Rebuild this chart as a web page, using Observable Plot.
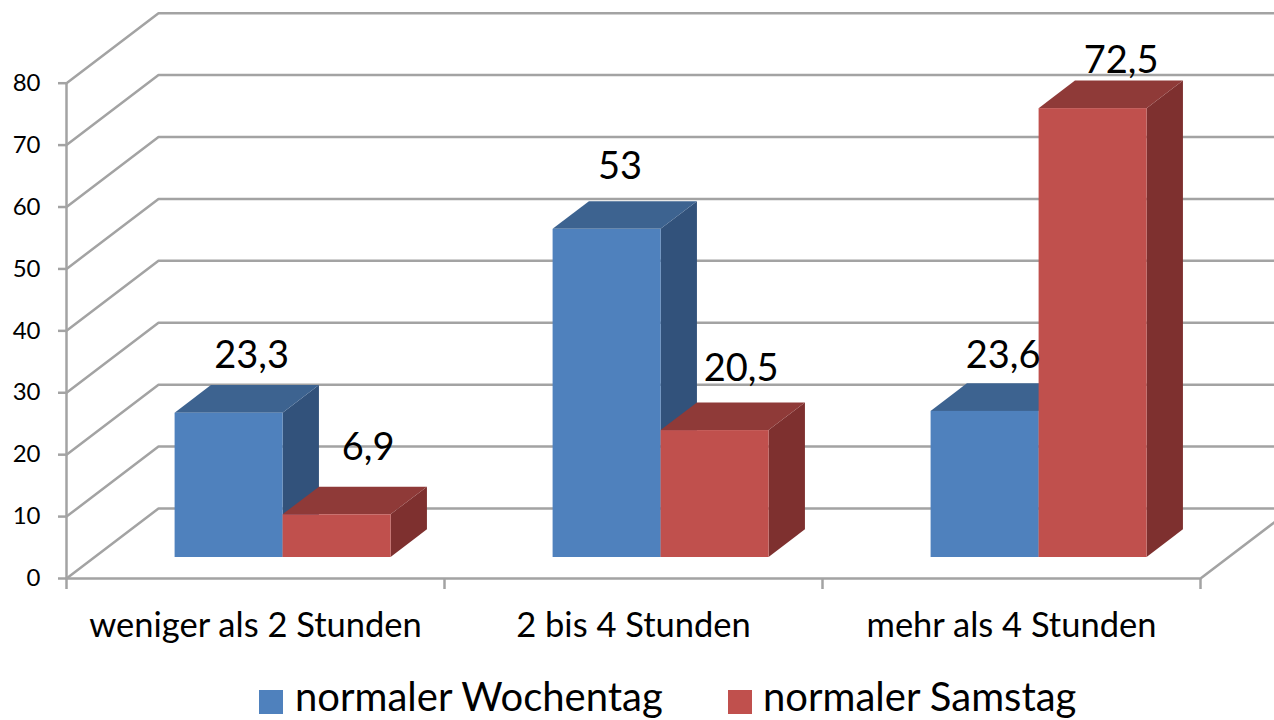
<!DOCTYPE html>
<html>
<head>
<meta charset="utf-8">
<script src="https://cdn.jsdelivr.net/npm/d3@7"></script>
<script src="https://cdn.jsdelivr.net/npm/@observablehq/plot@0.6"></script>
<style>
html,body{margin:0;padding:0;background:#fff;overflow:hidden;width:1274px;height:720px}
#chart svg{display:block}
#legend{position:relative;height:48px;font-family:Lato,sans-serif;font-size:40px;color:#000;white-space:nowrap}
#legend .sw{position:absolute;top:18px;width:24px;height:24px}
#legend .lb{position:absolute;top:4px;line-height:40px}
</style>
</head>
<body>
<div id="chart"></div>
<div id="legend"></div>
<script>
const categories = ["weniger als 2 Stunden", "2 bis 4 Stunden", "mehr als 4 Stunden"];
const seriesNames = ["normaler Wochentag", "normaler Samstag"];
const wochentag = [23.3, 53, 23.6];
const samstag = [6.9, 20.5, 72.5];
const yTicks = [0, 10, 20, 30, 40, 50, 60, 70, 80];

// layout
const W = 1274, H = 672;
const left = 66, right = 1200, yTop = 82.7, yBottom = 578;
const faces = [
  {front: "#4F81BD", top: "#3D6390", side: "#32527B"},
  {front: "#C0504D", top: "#8F3A38", side: "#7E302F"}
];
const depthX = 92, depthY = 70;               // px of the full floor depth
const pxX = (right - left) / 3, pxY = (yBottom - yTop) / 80;
const ox = d => d * depthX / pxX, oy = d => d * depthY / pxY;
const barWidth = 108 / pxX, d0 = 0.3, d1 = 0.695, dEdge = (W - right) / depthX;
const labelShift = [[[22.5, 57], [31, 67]], [[13, 63], [26, 62]], [[18, 56], [28, 48]]];

const bars = categories.flatMap((c, i) => [wochentag[i], samstag[i]].map((v, s) => ({
  c: i, s, v,
  x1: i + 0.5 - barWidth + s * barWidth,
  x2: i + 0.5 + s * barWidth,
  label: String(v).replace(".", ","),
  shift: labelShift[i][s]
})));

const gridRows = yTicks.flatMap(t => [
  {t, x: 0, y: t},
  {t, x: ox(1), y: t + oy(1)},
  {t, x: 3 + ox(dEdge), y: t + oy(1)}
]);
const floorRows = [
  {x: 0, y: 0}, {x: 3, y: 0}, {x: 3 + ox(dEdge), y: oy(dEdge)}
];

const barMarks = bars.flatMap(b => {
  const f = faces[b.s];
  const p = [d0, d1];
  return [
    Plot.areaY(p, {x: d => b.x2 + ox(d), y1: d => oy(d), y2: d => b.v + oy(d), fill: f.side}),
    Plot.areaX(p, {y: d => b.v + oy(d), x1: d => b.x1 + ox(d), x2: d => b.x2 + ox(d), fill: f.top}),
    Plot.rect([b], {x1: d => d.x1 + ox(d0), x2: d => d.x2 + ox(d0), y1: oy(d0), y2: d => d.v + oy(d0), fill: f.front})
  ];
});

const grey = "#A3A3A3";
const chart = Plot.plot({
  width: W, height: H,
  marginLeft: left, marginRight: W - right, marginTop: yTop, marginBottom: H - yBottom,
  style: {background: "#fff", fontFamily: "Lato, sans-serif", overflow: "hidden"},
  x: {type: "linear", domain: [0, 3], range: [left, right]},
  y: {type: "linear", domain: [0, 80], range: [yBottom, yTop]},
  marks: [
    Plot.line(gridRows, {x: "x", y: "y", z: "t", stroke: grey, strokeWidth: 2.5}),
    Plot.line(floorRows, {x: "x", y: "y", stroke: grey, strokeWidth: 2.5}),
    Plot.ruleX([0], {y1: 0, y2: 80, stroke: grey, strokeWidth: 2.5}),
    Plot.axisY({ticks: yTicks, tickSize: 8, tickPadding: 18, fontSize: 24, stroke: grey, strokeWidth: 2.5, strokeOpacity: 1, label: null, fill: "#000"}),
    Plot.axisX({ticks: [0, 1, 2, 3], tickSize: 11, tickFormat: () => "", stroke: grey, strokeWidth: 2.5, strokeOpacity: 1, label: null}),
    Plot.axisX({ticks: [0.5, 1.5, 2.5], tickSize: 0, tickPadding: 34, tickFormat: v => categories[Math.floor(v)], fontSize: 34.5, fill: "#000", label: null}),
    ...barMarks,
    Plot.text(bars, {
      x: d => (d.x1 + d.x2) / 2 + ox(d0) + d.shift[0] / pxX,
      y: d => d.v + oy(d0) + d.shift[1] / pxY,
      text: "label", fontSize: 38, fill: "#000", textAnchor: "middle"
    })
  ]
});
document.getElementById("chart").append(chart);

const legend = document.getElementById("legend");
const lx = [[259, 295], [728, 763]];
seriesNames.forEach((n, i) => {
  const sw = document.createElement("span");
  sw.className = "sw"; sw.style.left = lx[i][0] + "px"; sw.style.background = faces[i].front;
  const lb = document.createElement("span");
  lb.className = "lb"; lb.style.left = lx[i][1] + "px"; lb.textContent = n;
  legend.append(sw, lb);
});
</script>
</body>
</html>
